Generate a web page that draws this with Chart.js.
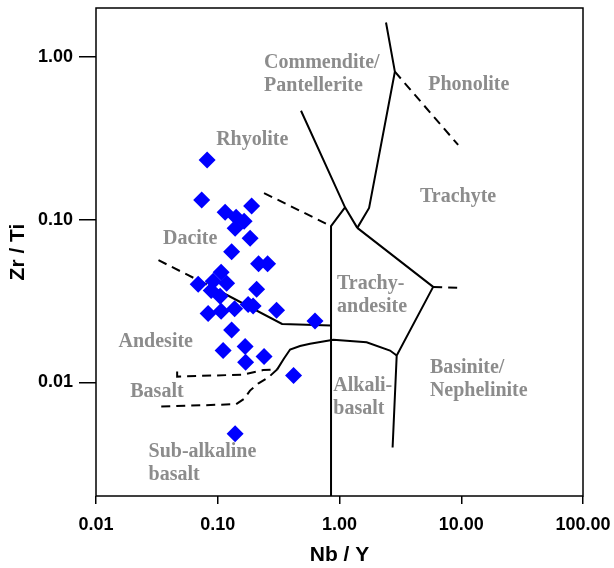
<!DOCTYPE html>
<html><head><meta charset="utf-8">
<script src="https://cdn.jsdelivr.net/npm/chart.js@4/dist/chart.umd.min.js"></script>
<style>html,body{margin:0;padding:0;background:#fff}</style>
</head><body>
<canvas id="c" width="614" height="568"></canvas>
<script>
// ---- sample data (Nb/Y vs Zr/Ti) ----
const nbY  = [0.0818,0.0738,0.1150,0.1897,0.1416,0.1647,0.1389,0.1844,0.1300,0.2165,0.2567,0.1066,0.0691,0.0917,0.1183,0.2085,0.1046,0.0883,0.0834,0.1066,0.1376,0.1776,0.1952,0.3042,0.6295,0.1300,0.1107,0.1678,0.1694,0.2402,0.4195,0.1389];
const zrTi = [0.2327,0.1319,0.1112,0.1211,0.1036,0.0979,0.0886,0.0769,0.0635,0.0535,0.0535,0.0475,0.0400,0.0418,0.0406,0.0373,0.0338,0.0367,0.0265,0.0273,0.0283,0.0301,0.0295,0.0277,0.0238,0.0210,0.0157,0.0166,0.0133,0.0144,0.0110,0.00483];

// ---- axis ticks ----
const xTickValues = [0.01, 0.1, 1, 10, 100];
const xTickLabels = ['0.01', '0.10', '1.00', '10.00', '100.00'];
const yTickValues = [0.01, 0.1, 1];
const yTickLabels = ['0.01', '0.10', '1.00'];

// ---- field boundaries [Nb/Y, Zr/Ti] ----
const solidComRhy   = [[0.483,0.467],[1.11,0.119],[1.40,0.089]];
const solidTrAnLeft = [[1.11,0.119],[0.852,0.0912],[0.852,0.002]];
const dashRhyDac    = [[0.240,0.1457],[0.852,0.0912]];
const solidPhon     = [[2.41,1.63],[2.85,0.812],[1.75,0.118],[1.40,0.089]];
const dashPhon      = [[2.85,0.812],[9.43,0.288]];
const solidTrRight  = [[1.40,0.089],[5.88,0.0386],[2.95,0.0146],[2.73,0.00397]];
const dashTrRight   = [[5.88,0.0386],[9.56,0.0381]];
const solidAlkCurve = [[2.95,0.0146],[2.60,0.01568],[1.67,0.01764],[0.89,0.01826],[0.573,0.01725],[0.474,0.01672],[0.393,0.0159],[0.35,0.0140],[0.307,0.01197]];
const dashBasLow    = [[0.307,0.01197],[0.261,0.01073],[0.2145,0.00982],[0.184,0.00889],[0.165,0.00793],[0.1416,0.00734],[0.0325,0.00708]];
const dashBasUp     = [[0.0464,0.01164],[0.0464,0.01084],[0.1616,0.01115],[0.2357,0.01189],[0.307,0.01197]];
const dashAndDac    = [[0.0326,0.0563],[0.090,0.0384]];
const solidAndDac   = [[0.090,0.0384],[0.3375,0.02285],[0.852,0.02237]];

// ---- field names ----
const regionNames = [['Commendite/','Pantellerite'],['Phonolite'],['Rhyolite'],['Trachyte'],['Dacite'],['Trachy-','andesite'],['Andesite'],['Basalt'],['Sub-alkaline','basalt'],['Basinite/','Nephelinite'],['Alkali-','basalt']];
const regionX = [0.240, 5.35, 0.0970, 4.575, 0.0355, 0.954, 0.01532, 0.01912, 0.0270, 5.526, 0.8895];
const regionY = [0.853, 0.6286, 0.2879, 0.1287, 0.0711, 0.0373, 0.01648, 0.0081, 0.003458, 0.01139, 0.00889];

const toPts = arr => arr.map(p => ({x: p[0], y: p[1]}));
const lineDs = (arr, dashed) => ({
  data: toPts(arr), showLine: true, pointRadius: 0, pointHoverRadius: 0, borderColor: '#000', borderWidth: 2,
  borderDash: dashed ? [9, 6] : [], fill: false, order: 2, tension: 0
});

const datasets = [
  { data: nbY.map((v,i)=>({x: v, y: zrTi[i]})), pointStyle: 'rectRot', pointRadius: 8.5,
    backgroundColor: '#0000ff', borderColor: '#0000ff', borderWidth: 0, showLine: false, order: 0 },
  lineDs(solidComRhy,false), lineDs(solidTrAnLeft,false), lineDs(dashRhyDac,true),
  lineDs(solidPhon,false), lineDs(dashPhon,true), lineDs(solidTrRight,false), lineDs(dashTrRight,true),
  lineDs(solidAlkCurve,false), lineDs(dashBasLow,true), lineDs(dashBasUp,true),
  lineDs(dashAndDac,true), lineDs(solidAndDac,false)
];

const regionPlugin = {
  id: 'regions',
  beforeDatasetsDraw(chart) {
    const {ctx, scales: {x, y}} = chart;
    ctx.save();
    ctx.fillStyle = '#8c8c8c';
    ctx.font = 'bold 20px "Liberation Serif", "Times New Roman", serif';
    ctx.textAlign = 'left';
    ctx.textBaseline = 'alphabetic';
    regionNames.forEach((lines, i) => {
      const px = x.getPixelForValue(regionX[i]);
      const py = y.getPixelForValue(regionY[i]);
      lines.forEach((t, j) => ctx.fillText(t, px, py + j * 23));
    });
    ctx.restore();
  }
};
const framePlugin = {
  id: 'frame',
  afterDraw(chart) {
    const {ctx, chartArea: a} = chart;
    ctx.save();
    ctx.strokeStyle = '#000';
    ctx.lineWidth = 1.5;
    ctx.strokeRect(a.left, a.top, a.right - a.left, a.bottom - a.top);
    ctx.restore();
  }
};

const zeroPad = s => { s.paddingTop = 0; s.paddingBottom = 0; s.paddingLeft = 0; s.paddingRight = 0; };
const tickFont = {family: '"Liberation Sans", Arial, sans-serif', size: 18, weight: 'bold'};
const titleFont = {family: '"Liberation Sans", Arial, sans-serif', size: 21, weight: 'bold'};

new Chart(document.getElementById('c'), {
  type: 'scatter',
  data: {datasets},
  options: {
    responsive: false, animation: false, devicePixelRatio: 1,
    layout: {autoPadding: false, padding: {top: 8, right: 31, left: 0, bottom: 0}},
    plugins: {legend: {display: false}, tooltip: {enabled: false}},
    scales: {
      x: {
        type: 'logarithmic', min: 0.01, max: 100, bounds: 'data',
        afterBuildTicks: s => { s.ticks = xTickValues.map(v => ({value: v})); },
        afterFit: s => { s.height = 72; zeroPad(s); },
        ticks: {autoSkip: false, maxRotation: 0, color: '#000', font: tickFont, padding: 10.5,
          callback: v => xTickLabels[xTickValues.indexOf(v)]},
        grid: {display: true, drawOnChartArea: false, drawTicks: true, tickLength: 8, color: '#000', lineWidth: 1.5},
        border: {display: false},
        title: {display: true, text: 'Nb / Y', color: '#000', font: titleFont, padding: {top: 0, bottom: 0}}
      },
      y: {
        type: 'logarithmic', min: 0.002, max: 2, bounds: 'data',
        afterBuildTicks: s => { s.ticks = yTickValues.map(v => ({value: v})); },
        afterFit: s => { s.width = 96; zeroPad(s); },
        ticks: {autoSkip: false, color: '#000', font: tickFont, padding: 6,
          callback: v => yTickLabels[yTickValues.indexOf(v)]},
        grid: {display: true, drawOnChartArea: false, drawTicks: true, tickLength: 17, color: '#000', lineWidth: 1.5},
        border: {display: false},
        title: {display: true, text: 'Zr / Ti', color: '#000', font: titleFont, padding: {top: 5.4, bottom: 0}}
      }
    }
  },
  plugins: [regionPlugin, framePlugin]
});
</script>
</body></html>
